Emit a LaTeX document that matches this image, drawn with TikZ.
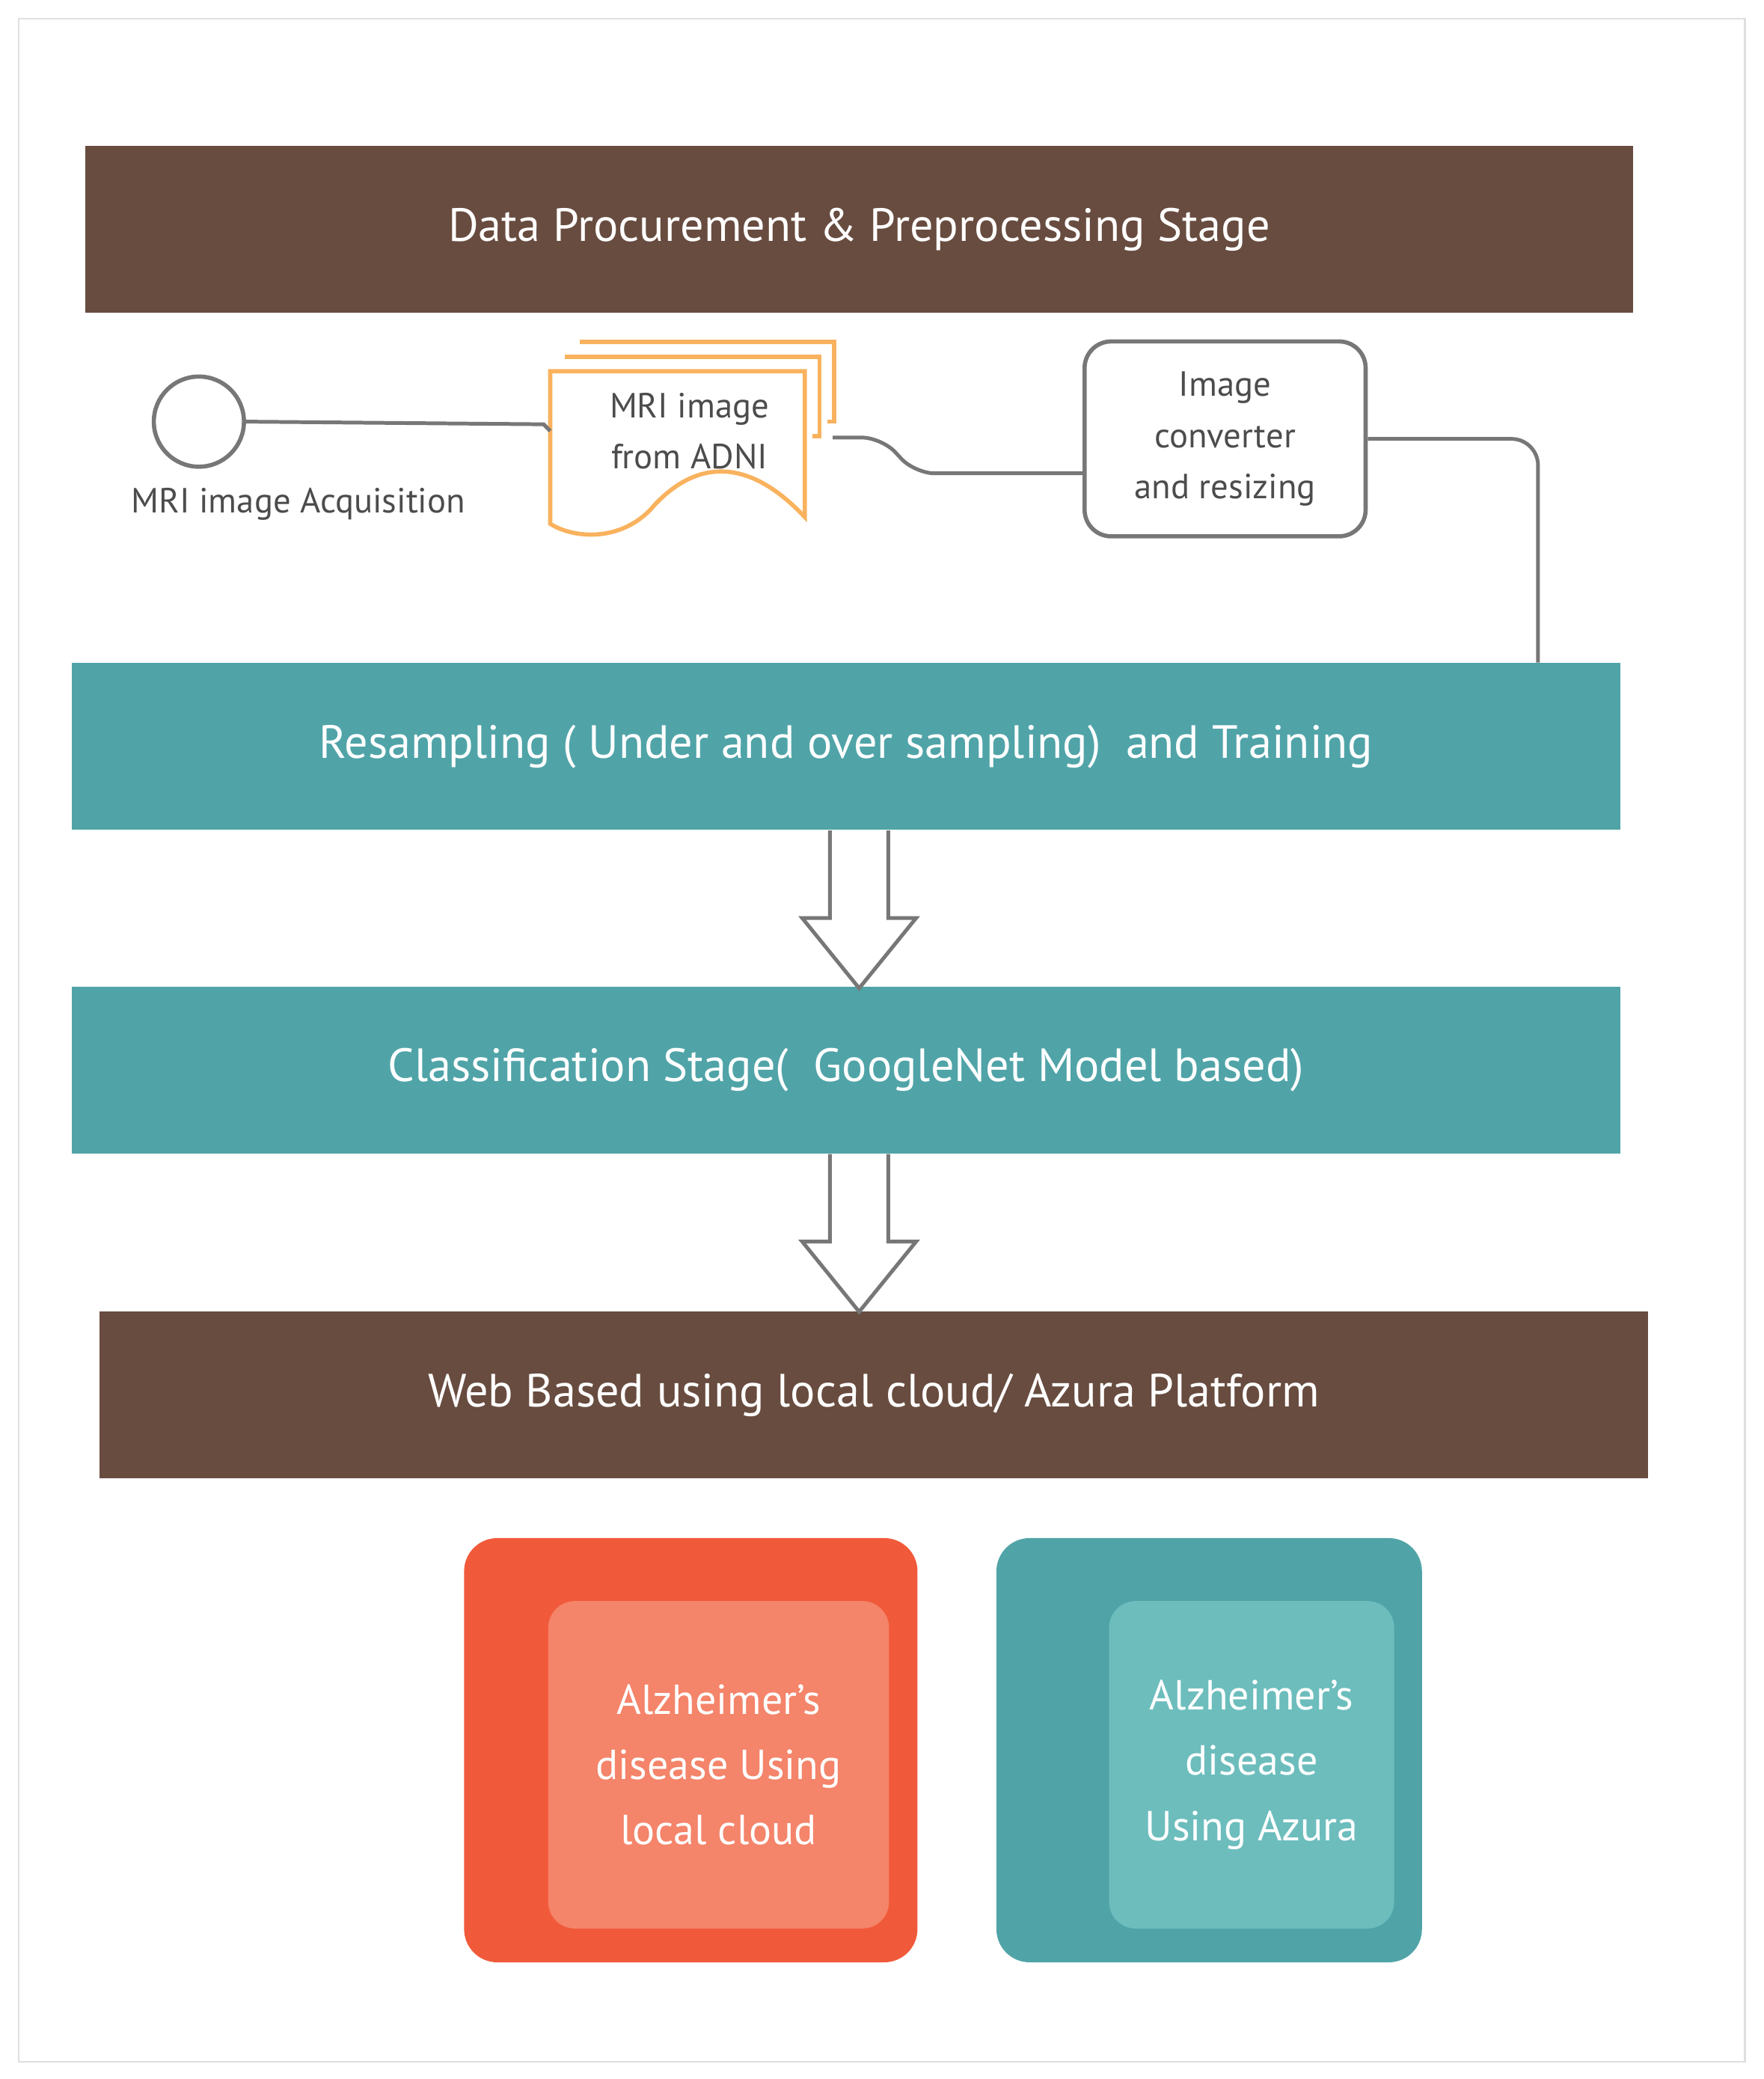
\documentclass[tikz,border=0pt]{standalone}
\usepackage{fontspec}
\setmainfont{PT Sans}
\usetikzlibrary{positioning}
\definecolor{brownbar}{HTML}{684C40}
\definecolor{tealbar}{HTML}{50A4A8}
\definecolor{tealin}{HTML}{6DBDBD}
\definecolor{redbox}{HTML}{F05A3A}
\definecolor{redin}{HTML}{F4846A}
\definecolor{docline}{HTML}{F9B25E}
\definecolor{wire}{HTML}{777777}
\tikzset{
  bar/.style={minimum width=23.36cm, minimum height=2.52cm, text=white, font=\fontsize{20}{24}\selectfont, inner sep=0pt},
  outbox/.style={rounded corners=0.5cm, minimum width=6.84cm, minimum height=6.4cm},
  inbox/.style={rounded corners=0.4cm, text=white, align=center, font=\fontsize{18}{28}\selectfont},
  wire/.style={draw=wire, line width=1.6pt, rounded corners=0.4cm},
  hollow/.style={draw=wire, line width=1.6pt, fill=white}
}
\begin{document}
\begin{tikzpicture}[x=0.02cm,y=-0.02cm]
\useasboundingbox (0,0) rectangle (1330,1568);
\draw[gray!25, line width=0.8pt] (14,14) rectangle (1316,1555);

% stage bars
\node[bar, fill=brownbar] (procure) at (648,173) {Data Procurement \& Preprocessing Stage};
\node[bar, fill=tealbar] (resample) at (638,563) {Resampling ( Under and over sampling)\ \ and Training};
\node[bar, fill=tealbar] (classify) at (638,807) {Classification Stage(\ \ GoogleNet Model based)};
\node[bar, fill=brownbar] (web) at (659,1052) {Web Based using local cloud/ Azura Platform};

% acquisition row
\node[circle, draw=wire, line width=1.8pt, minimum size=1.36cm] (start) at (150,318) {};
\node[text=black!70, font=\fontsize{15}{18}\selectfont] (startlbl) at (225,380) {MRI image Acquisition};
\foreach \d in {22,11} {
  \draw[docline, line width=1.8pt, fill=white] (415+\d,280-\d) -- (607+\d,280-\d) -- (607+\d,390-\d-50) -- (607+\d-5,390-\d-50);
}
\draw[docline, line width=1.8pt, fill=white] (415,280) -- (607,280) -- (607,390)
  .. controls (560,340) and (520,350) .. (490,385) .. controls (465,410) and (430,405) .. (415,395) -- cycle;
\node[text=black!70, align=center, font=\fontsize{15}{22}\selectfont] (adni) at (520,325) {MRI image\\from ADNI};
\coordinate (adniw) at (415,325);
\coordinate (adnie) at (628,330);
\node[draw=wire, line width=1.8pt, rounded corners=0.4cm, minimum width=4.24cm, minimum height=2.94cm,
  align=center, text=black!70, font=\fontsize{15}{22}\selectfont] (convert) at (924,331) {Image\\converter\\and resizing};

\draw[wire, rounded corners=0pt] (start.east) -- (410,320) -- (adniw);
\draw[wire, rounded corners=0.3cm] (adnie) -- (665,330) -- (690,357) -- (convert.west |- 0,357);
\draw[wire] (convert.east) -- (1160,331) -- (resample.north -| 1160,0);

% hollow arrows
\foreach \a in {resample, classify} {
  \draw[hollow] (\a.south -| 648,0) ++(-22,0) -- ++(0,66) -- ++(-21,0) -- ++(43,53) -- ++(43,-53) -- ++(-21,0) -- ++(0,-66);
}

% result boxes
\node[outbox, fill=redbox] (localout) at (521,1320) {};
\node[inbox, fill=redin, minimum width=5.14cm, minimum height=4.94cm] (local) at (542,1331) {Alzheimer’s\\disease Using\\local cloud};
\node[outbox, fill=tealbar, minimum width=6.42cm] (azureout) at (912,1320) {};
\node[inbox, fill=tealin, minimum width=4.3cm, minimum height=4.94cm] (azure) at (944,1331) {Alzheimer’s\\disease\\Using Azura};
\end{tikzpicture}
\end{document}
